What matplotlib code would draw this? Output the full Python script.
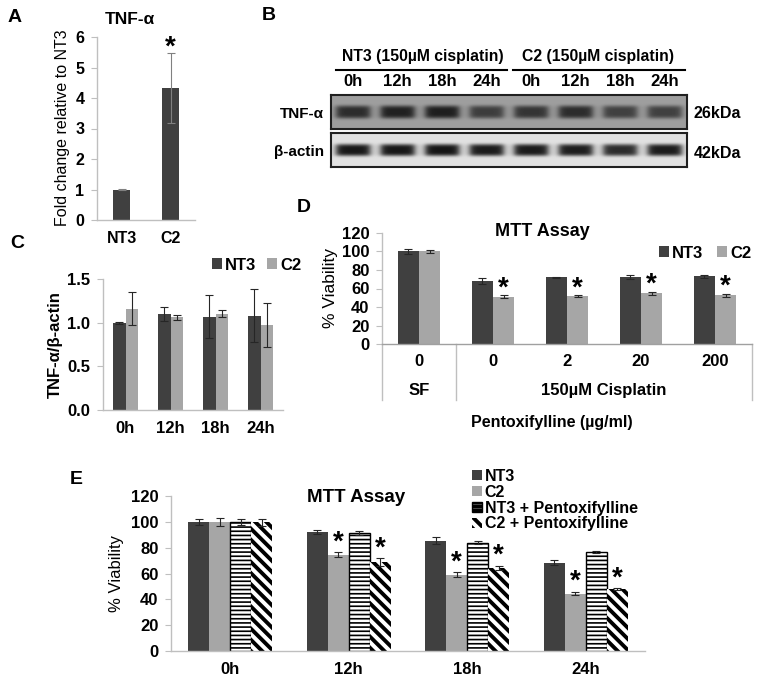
import numpy as np
import matplotlib
matplotlib.use('Agg')
import matplotlib.pyplot as plt
from matplotlib.lines import Line2D

W, H = 761, 684
DARK = '#404040'
LIGHT = '#a6a6a6'
SPINE = '#bfbfbf'
ERR = '#262626'

plt.rcParams['font.family'] = ['Liberation Sans', 'DejaVu Sans']
plt.rcParams['font.weight'] = 'bold'

# A: TNF-alpha fold change
a_groups = ['NT3', 'C2']
a_values = [1.0, 4.33]
a_errors = [0.02, 1.15]

# B: western blot, band strength per lane (0..1)
b_lanes = ['0h', '12h', '18h', '24h', '0h', '12h', '18h', '24h']
b_tnf = [0.80, 0.88, 0.90, 0.68, 0.74, 0.80, 0.66, 0.66]
b_actin = [0.95, 0.95, 0.96, 0.93, 0.93, 0.92, 0.85, 0.93]

# C: densitometry
c_times = ['0h', '12h', '18h', '24h']
c_nt3 = [1.00, 1.10, 1.07, 1.08]
c_nt3_err = [0.01, 0.08, 0.25, 0.30]
c_c2 = [1.16, 1.06, 1.10, 0.97]
c_c2_err = [0.19, 0.03, 0.04, 0.25]

# D: MTT with pentoxifylline doses
d_doses = ['0', '0', '2', '20', '200']
d_nt3 = [100, 68, 72, 72.5, 73]
d_nt3_err = [3, 3, 0.7, 2.5, 2]
d_c2 = [100, 51, 51.5, 55, 52.5]
d_c2_err = [2, 1.5, 1, 1.5, 2]
d_star = [False, True, True, True, True]

# E: MTT time course
e_times = ['0h', '12h', '18h', '24h']
e_nt3 = [100, 92, 85.5, 68.5]
e_nt3_err = [2.5, 1.5, 2.5, 2]
e_c2 = [100, 74.5, 59, 44.5]
e_c2_err = [3, 2, 2, 1.5]
e_nt3p = [100, 91.5, 84, 76.5]
e_nt3p_err = [2.5, 1.5, 1.5, 1]
e_c2p = [99.5, 69, 64.5, 48]
e_c2p_err = [3, 3, 1.5, 0.5]
e_star = [False, True, True, True]

fig = plt.figure(figsize=(W / 100, H / 100), dpi=100)


def px_axes(l, t, r, b):
    return fig.add_axes([l / W, 1 - b / H, (r - l) / W, (b - t) / H])


def fig_text(x, y, s, **kw):
    fig.text(x / W, 1 - y / H, s, **kw)


def style(ax, fs=12):
    for s in ['top', 'right']:
        ax.spines[s].set_visible(False)
    for s in ['left', 'bottom']:
        ax.spines[s].set_color(SPINE)
        ax.spines[s].set_linewidth(1)
    ax.tick_params(axis='y', length=4, color=SPINE, labelsize=fs, pad=5)
    ax.tick_params(axis='x', length=0, labelsize=fs, pad=8)


def star(ax, x, y, dy):
    ax.annotate('*', xy=(x, y), xytext=(0, dy), textcoords='offset points',
                ha='center', va='center', fontsize=20, fontweight='bold')


def errs(ax, x, v, e):
    ax.errorbar(x, v, yerr=e, fmt='none', ecolor=ERR, elinewidth=0.8, capsize=3, capthick=0.8)


# panel letters
for lab, x, y in [('A', 8, 17), ('B', 262, 16), ('C', 10, 243), ('D', 297, 208), ('E', 70, 480)]:
    fig_text(x, y, lab, fontsize=14, fontweight='bold', ha='left', va='center')

# ---- A ----
ax = px_axes(97, 37, 195, 220)
xa = np.arange(len(a_groups))
ax.bar(xa, a_values, width=0.33, color=DARK)
ax.errorbar(xa, a_values, yerr=a_errors, fmt='none', ecolor='#808080', elinewidth=0.8, capsize=3, capthick=0.8)
ax.set_xlim(-0.5, 1.5)
ax.set_ylim(0, 6)
ax.set_xticks(xa, a_groups)
ax.set_yticks(range(7))
style(ax, 11.5)
star(ax, 1, a_values[1] + a_errors[1], 4)
fig_text(63, 128, 'Fold change relative to NT3', fontsize=11.5, fontweight='normal',
         rotation=90, ha='center', va='center')
fig_text(130, 20, 'TNF-\u03b1', fontsize=12.5, ha='center', va='center')

# ---- B ----
def blot(l, t, r, b, strengths, bg, dark, thick):
    axb = px_axes(l, t, r, b)
    w, h = r - l, b - t
    xs = np.arange(w)[None, :] + 0.5
    ys = np.arange(h)[:, None] + 0.5
    img = np.full((h, w), bg)
    lane_w = w / len(strengths)
    for i, s in enumerate(strengths):
        cx = lane_w * (i + 0.5)
        prof_x = 1 / (1 + np.exp((np.abs(xs - cx) - lane_w * 0.38) / 2.0))
        prof_y = np.exp(-((ys - h * 0.5) / thick) ** 4)
        img = img - (bg - dark) * s * prof_x * prof_y
    axb.imshow(img, cmap='gray', vmin=0, vmax=1, aspect='auto', interpolation='bilinear')
    axb.set_xticks([])
    axb.set_yticks([])
    for sp in axb.spines.values():
        sp.set_color('#202020')
        sp.set_linewidth(1.5)
    return axb


blot(331, 95, 687, 129, b_tnf, 0.62, 0.06, 6.5)
blot(331, 133, 687, 167, b_actin, 0.88, 0.05, 6.0)
lane_w = (687 - 331) / len(b_lanes)
for i, lab in enumerate(b_lanes):
    fig_text(331 + lane_w * (i + 0.5), 82, lab, fontsize=12, ha='center', va='center')
fig_text(423, 57, 'NT3 (150\u00b5M cisplatin)', fontsize=11.3, ha='center', va='center')
fig_text(598, 57, 'C2 (150\u00b5M cisplatin)', fontsize=11.3, ha='center', va='center')
for x0, x1 in [(336, 507), (513, 685)]:
    fig.add_artist(Line2D([x0 / W, x1 / W], [1 - 70 / H, 1 - 70 / H], color='black', lw=1.5))
fig_text(324, 114, 'TNF-\u03b1', fontsize=11, ha='right', va='center')
fig_text(324, 152, '\u03b2-actin', fontsize=11, ha='right', va='center')
fig_text(694, 114, '26kDa', fontsize=11.5, ha='left', va='center')
fig_text(694, 153, '42kDa', fontsize=11.5, ha='left', va='center')

# ---- C ----
ax = px_axes(103, 279, 283, 410)
xc = np.arange(len(c_times))
bw = 0.267
ax.bar(xc - bw / 2, c_nt3, width=bw, color=DARK, label='NT3')
ax.bar(xc + bw / 2, c_c2, width=bw, color=LIGHT, label='C2')
errs(ax, xc - bw / 2, c_nt3, c_nt3_err)
errs(ax, xc + bw / 2, c_c2, c_c2_err)
ax.set_xlim(-0.5, 3.5)
ax.set_ylim(0, 1.5)
ax.set_yticks([0, 0.5, 1.0, 1.5], ['0.0', '0.5', '1.0', '1.5'])
ax.set_xticks(xc, c_times)
style(ax, 12)
fig_text(55, 345, 'TNF-\u03b1/\u03b2-actin', fontsize=12, rotation=90, ha='center', va='center')
ax.legend(loc='center left', bbox_to_anchor=(212 / W, 1 - 265 / H), bbox_transform=fig.transFigure,
          ncol=2, frameon=False, fontsize=12, handlelength=0.6, handleheight=0.6,
          handletextpad=0.2, columnspacing=0.6, borderpad=0, borderaxespad=0)

# ---- D ----
ax = px_axes(382, 233, 752, 344)
xd = np.arange(len(d_doses))
bw = 0.284
ax.bar(xd - bw / 2, d_nt3, width=bw, color=DARK, label='NT3')
ax.bar(xd + bw / 2, d_c2, width=bw, color=LIGHT, label='C2')
errs(ax, xd - bw / 2, d_nt3, d_nt3_err)
errs(ax, xd + bw / 2, d_c2, d_c2_err)
for i, s in enumerate(d_star):
    if s:
        star(ax, xd[i] + bw / 2, d_c2[i] + d_c2_err[i], 5)
ax.set_xlim(-0.5, len(d_doses) - 0.5)
ax.set_ylim(0, 120)
ax.set_yticks(range(0, 121, 20))
ax.set_xticks([])
style(ax, 12)
ax.spines['bottom'].set_color('#a0a0a0')
trans = ax.get_xaxis_transform()
for i, lab in enumerate(d_doses):
    ax.text(xd[i], -0.16, lab, transform=trans, ha='center', va='center', fontsize=12)
ax.text(0, -0.42, 'SF', transform=trans, ha='center', va='center', fontsize=12)
ax.text(2.5, -0.42, '150\u00b5M Cisplatin', transform=trans, ha='center', va='center', fontsize=12)
for xs in [-0.5, 0.5, len(d_doses) - 0.5]:
    ax.plot([xs, xs], [0, -0.5], transform=trans, color=SPINE, lw=1, clip_on=False)
fig_text(552, 422, 'Pentoxifylline (\u00b5g/ml)', fontsize=11.5, ha='center', va='center')
fig_text(331, 288, '% Viability', fontsize=12.5, fontweight='normal', rotation=90, ha='center', va='center')
fig_text(542, 232, 'MTT Assay', fontsize=13, ha='center', va='center')
ax.legend(loc='center left', bbox_to_anchor=(659 / W, 1 - 253 / H), bbox_transform=fig.transFigure,
          ncol=2, frameon=False, fontsize=12, handlelength=0.6, handleheight=0.6,
          handletextpad=0.2, columnspacing=0.8, borderpad=0, borderaxespad=0)

# ---- E ----
ax = px_axes(171, 496, 645, 651)
xe = np.arange(len(e_times))
bw = 0.177
offs = [-1.5 * bw, -0.5 * bw, 0.5 * bw, 1.5 * bw]
ax.bar(xe + offs[0], e_nt3, width=bw, color=DARK, label='NT3')
ax.bar(xe + offs[1], e_c2, width=bw, color=LIGHT, label='C2')
plt.rcParams['hatch.linewidth'] = 1.2
b3 = ax.bar(xe + offs[2], e_nt3p, width=bw, color='white', edgecolor='black', lw=1,
            hatch='----', label='NT3 + Pentoxifylline')
plt.rcParams['hatch.linewidth'] = 2.8
b4 = ax.bar(xe + offs[3], e_c2p, width=bw, color='white', edgecolor='black', lw=0,
            hatch='\\\\\\', label='C2 + Pentoxifylline')
for p in b3:
    if hasattr(p, 'set_hatch_linewidth'):
        p.set_hatch_linewidth(1.2)
for p in b4:
    if hasattr(p, 'set_hatch_linewidth'):
        p.set_hatch_linewidth(2.8)
for o, v, e in zip(offs, [e_nt3, e_c2, e_nt3p, e_c2p], [e_nt3_err, e_c2_err, e_nt3p_err, e_c2p_err]):
    errs(ax, xe + o, v, e)
for i, s in enumerate(e_star):
    if s:
        star(ax, xe[i] + offs[1], e_c2[i] + e_c2_err[i], 7)
        star(ax, xe[i] + offs[3], e_c2p[i] + e_c2p_err[i], 7)
ax.set_xlim(-0.5, len(e_times) - 0.5)
ax.set_ylim(0, 120)
ax.set_yticks(range(0, 121, 20))
ax.set_xticks(xe, e_times)
style(ax, 12)
fig_text(117, 573, '% Viability', fontsize=12, fontweight='normal', rotation=90, ha='center', va='center')
fig_text(356, 497, 'MTT Assay', fontsize=13.5, ha='center', va='center')
ax.legend(loc='upper left', bbox_to_anchor=(472 / W, 1 - 469 / H), bbox_transform=fig.transFigure,
          frameon=False, fontsize=11.5, handlelength=0.6, handleheight=0.6,
          handletextpad=0.2, labelspacing=0.05, borderpad=0, borderaxespad=0)

fig.savefig('out.png', dpi=100)
